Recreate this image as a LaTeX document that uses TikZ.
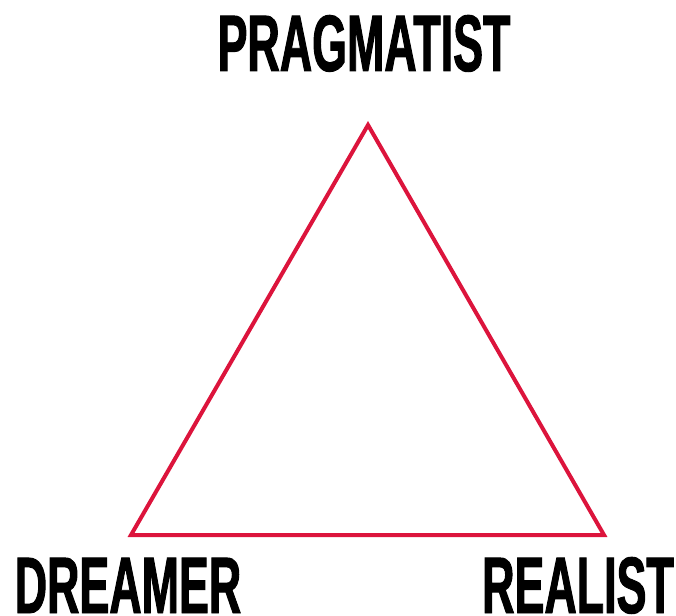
\documentclass[tikz,border=0pt]{standalone}
\usepackage{fontspec}
\newfontfamily\condfont[FakeStretch=0.56,FakeBold=1.2]{Liberation Sans}
\definecolor{tri}{HTML}{DC143C}
\begin{document}
\begin{tikzpicture}[x=1pt,y=1pt,
  lbl/.style={font=\condfont\bfseries\fontsize{80}{80}\selectfont, inner sep=0pt, anchor=base},
  edge/.style={draw=tri, line width=4pt, line join=miter}]
\useasboundingbox (0,0) rectangle (676,615);
\coordinate (top) at (368,490);
\coordinate (bl) at (131,80);
\coordinate (br) at (604,80);
\draw[edge] (top) -- (bl) -- (br) -- cycle;
\node[lbl] (prag) at (364,544) {PRAGMATIST};
\node[lbl] (dream) at (128,2) {DREAMER};
\node[lbl] (real) at (578,2) {REALIST};
\end{tikzpicture}
\end{document}
